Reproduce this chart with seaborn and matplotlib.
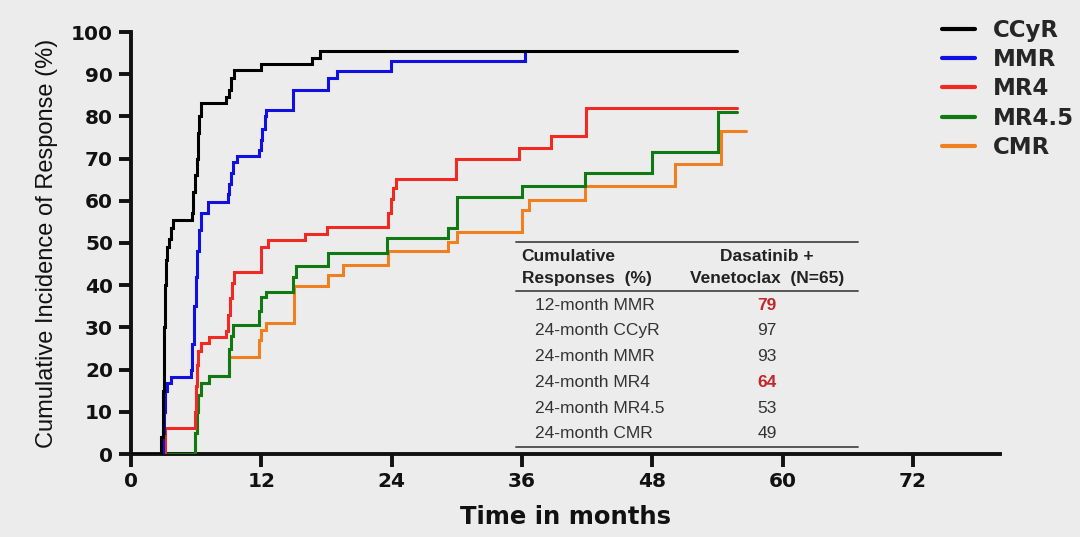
import matplotlib
matplotlib.use("Agg")
import matplotlib.pyplot as plt
from matplotlib.lines import Line2D
import numpy as np
import pandas as pd
import seaborn as sns

# ---------------- data ----------------
endpoints = ["CCyR", "MMR", "MR4", "MR4.5", "CMR"]
colors = ["#000000", "#1010e0", "#ee2a22", "#0f7a12", "#f07f20"]

ccyr_t = [0, 2.8, 2.9, 3.0, 3.1, 3.2, 3.35, 3.5, 3.7, 3.85, 5.6, 5.75, 5.9, 6.05,
          6.2, 6.3, 6.4, 8.7, 9.0, 9.2, 9.5, 12.0, 16.7, 17.4, 55.8]
ccyr_v = [0, 4, 15, 30, 40, 46, 49, 51, 53.5, 55.4, 57.1, 62, 66, 70,
          76, 80, 83.2, 84.6, 86.2, 89, 91, 92.4, 93.9, 95.4, 95.4]

mmr_t = [0, 2.9, 3.0, 3.15, 3.35, 3.65, 5.5, 5.65, 5.8, 5.95, 6.1, 6.25, 6.4, 7.05,
         8.9, 9.05, 9.2, 9.4, 9.8, 11.8, 11.95, 12.1, 12.3, 12.4, 14.9, 18.1, 19.0,
         23.9, 36.3]
mmr_v = [0, 5, 10, 15, 16.8, 18.3, 19.9, 26, 35, 42, 48, 53, 57, 59.8,
         61.5, 64, 66.5, 69.2, 70.6, 72, 74.5, 77, 80, 81.6, 86.2, 89.2, 90.8,
         93.1, 95.4]

mr4_t = [0, 3.1, 5.9, 6.0, 6.1, 6.2, 6.4, 7.2, 8.7, 8.9, 9.1, 9.3, 9.5, 12.0, 12.6,
         16.0, 18.0, 23.7, 23.9, 24.1, 24.4, 29.9, 35.7, 38.7, 41.9, 55.8]
mr4_v = [0, 6.1, 10, 16, 21, 24.5, 26.3, 27.8, 29.2, 33, 37, 40.5, 43.1, 49.1, 50.7,
         52.1, 53.7, 57, 60.5, 63, 65.2, 69.8, 72.5, 75.4, 81.9, 81.9]

mr45_t = [0, 5.9, 6.05, 6.2, 6.4, 7.2, 9.05, 9.2, 9.35, 11.8, 12.0, 12.4, 14.9, 15.2,
          18.1, 23.6, 29.2, 30.0, 36.0, 41.8, 48.0, 54.0, 55.8]
mr45_v = [0, 5, 10, 14, 16.9, 18.4, 25, 28, 30.6, 34, 37.3, 38.5, 42, 44.6,
          47.6, 51.1, 53.5, 61.0, 63.5, 66.7, 71.6, 81.1, 81.1]

cmr_t = [0, 5.9, 6.05, 6.2, 6.4, 7.2, 9.05, 11.8, 12.0, 12.4, 15.0, 18.1, 19.5, 23.7,
         29.2, 30.0, 36.0, 36.6, 41.8, 50.1, 54.3, 56.6]
cmr_v = [0, 5, 10, 14, 16.9, 18.4, 23.1, 27, 29.4, 31.0, 39.8, 42.4, 44.8, 48.1,
         50.3, 52.7, 57.8, 60.1, 63.4, 68.8, 76.6, 76.6]

x_ticks = [0, 12, 24, 36, 48, 60, 72]
y_ticks = [0, 10, 20, 30, 40, 50, 60, 70, 80, 90, 100]

table_header_left = ["Cumulative", "Responses  (%)"]
table_header_right = ["Dasatinib +", "Venetoclax  (N=65)"]
table_rows = ["12-month MMR", "24-month CCyR", "24-month MMR", "24-month MR4",
              "24-month MR4.5", "24-month CMR"]
table_values = ["79", "97", "93", "64", "53", "49"]
table_highlight = [True, False, False, True, False, False]

# ---------------- build frame ----------------
series = {"CCyR": (ccyr_t, ccyr_v), "MMR": (mmr_t, mmr_v), "MR4": (mr4_t, mr4_v),
          "MR4.5": (mr45_t, mr45_v), "CMR": (cmr_t, cmr_v)}
df = pd.concat([pd.DataFrame({"Time": t, "Response": v, "Endpoint": k})
                for k, (t, v) in series.items()], ignore_index=True)

# ---------------- style ----------------
BG = "#ececec"
sns.set_style("ticks", {"axes.facecolor": BG, "figure.facecolor": BG})
plt.rcParams["font.family"] = ["DejaVu Sans"]

W, H = 1080, 537
fig = plt.figure(figsize=(W / 100, H / 100), dpi=100, facecolor=BG)
L, R, T, B = 131, 1000, 32, 454
ax = fig.add_axes([L / W, 1 - B / H, (R - L) / W, (B - T) / H])
ax.set_facecolor(BG)

sns.lineplot(data=df, x="Time", y="Response", hue="Endpoint", hue_order=endpoints,
             palette=colors, drawstyle="steps-post", estimator=None, sort=False,
             linewidth=2.2, ax=ax, legend=False)
# draw order: CMR bottom, CCyR top
for i, ln in enumerate(ax.lines):
    ln.set_zorder(10 - i)
    ln.set_solid_joinstyle("miter")

ax.set_xlim(0, 80)
ax.set_ylim(0, 100)
ax.set_xticks(x_ticks)
ax.set_yticks(y_ticks)
ax.set_xticklabels([str(x) for x in x_ticks])
ax.set_yticklabels([str(y) for y in y_ticks])
for lab in ax.get_xticklabels() + ax.get_yticklabels():
    lab.set_fontweight("bold")
    lab.set_fontsize(14.5)
    lab.set_color("#111111")
ax.tick_params(axis="both", width=2.8, length=9, color="#111111")
ax.tick_params(axis="y", pad=4)
ax.tick_params(axis="x", pad=4)
for s in ["top", "right"]:
    ax.spines[s].set_visible(False)
for s in ["left", "bottom"]:
    ax.spines[s].set_linewidth(2.8)
    ax.spines[s].set_color("#111111")
ax.spines["left"].set_capstyle("projecting")
ax.spines["bottom"].set_capstyle("projecting")

ax.set_xlabel("Time in months", fontsize=17.5, fontweight="bold", labelpad=10,
              color="#111111")
ax.set_ylabel("Cumulative Incidence of Response (%)", fontsize=17,
              family=["Liberation Sans", "DejaVu Sans"], labelpad=9, color="#111111")

# ---------------- legend ----------------
handles = [Line2D([], [], color=c, lw=3) for c in colors]
fig.legend(handles, endpoints, loc="upper left",
           bbox_to_anchor=(942 / W, 1 - 19 / H), frameon=False,
           prop=dict(family="DejaVu Sans", weight="bold", size=16.5),
           handlelength=1.45, handletextpad=0.75, labelspacing=0.27,
           borderpad=0, borderaxespad=0)

# ---------------- inset table ----------------
def fx(px):
    return px / W

def fy(py):
    return 1 - py / H

line_kw = dict(color="#555555", lw=1.4, transform=fig.transFigure)
for py in (241.5, 291, 446.5):
    fig.add_artist(Line2D([fx(516), fx(858)], [fy(py), fy(py)], **line_kw))

tfont = ["Liberation Sans", "DejaVu Sans"]
for py, txt in zip((256.7, 278.3), table_header_left):
    fig.text(fx(521.7), fy(py), txt, ha="left", va="center", fontsize=12.5,
             fontweight="bold", family=tfont, color="#222222")
for py, txt in zip((256.7, 278.3), table_header_right):
    fig.text(fx(767), fy(py), txt, ha="center", va="center", fontsize=12.5,
             fontweight="bold", family=tfont, color="#222222")
row_y = [305, 330.5, 356.5, 382.5, 408.3, 434]
for py, lab, val, hl in zip(row_y, table_rows, table_values, table_highlight):
    fig.text(fx(535), fy(py), lab, ha="left", va="center", fontsize=12.5,
             family=tfont, color="#333333")
    fig.text(fx(767), fy(py), val, ha="center", va="center", fontsize=12.5,
             family=tfont, color="#c0282a" if hl else "#333333",
             fontweight="bold" if hl else "normal")

fig.savefig("out.png", dpi=100, facecolor=BG)
